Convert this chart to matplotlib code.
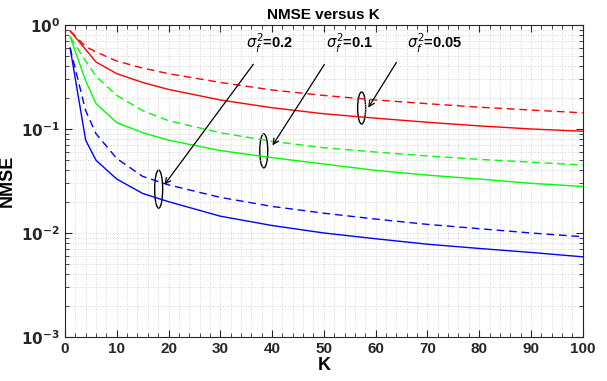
import matplotlib
matplotlib.use('Agg')
import matplotlib.pyplot as plt
import numpy as np
from matplotlib.patches import Ellipse
from matplotlib.ticker import MultipleLocator, LogLocator, NullFormatter

plt.rcParams['font.family'] = ['Liberation Sans', 'DejaVu Sans']

# number of users K
K = [1, 4, 6, 10, 15, 20, 30, 40, 50, 60, 70, 80, 90, 100]

# sigma_f^2 = 0.05 (red)
red_dash = [0.875, 0.62, 0.55, 0.45, 0.385, 0.34, 0.28, 0.237, 0.21, 0.19, 0.175, 0.162, 0.152, 0.143]
red_solid = [0.875, 0.58, 0.44, 0.34, 0.28, 0.24, 0.19, 0.16, 0.14, 0.127, 0.116, 0.107, 0.100, 0.095]
# sigma_f^2 = 0.1 (green)
green_dash = [0.77, 0.45, 0.32, 0.21, 0.15, 0.12, 0.092, 0.076, 0.066, 0.060, 0.055, 0.051, 0.048, 0.045]
green_solid = [0.77, 0.29, 0.175, 0.115, 0.092, 0.078, 0.062, 0.053, 0.046, 0.040, 0.036, 0.033, 0.030, 0.028]
# sigma_f^2 = 0.2 (blue)
blue_dash = [0.6, 0.15, 0.09, 0.052, 0.035, 0.029, 0.022, 0.018, 0.0155, 0.0136, 0.0121, 0.011, 0.0100, 0.0092]
blue_solid = [0.6, 0.078, 0.05, 0.033, 0.024, 0.020, 0.0145, 0.0118, 0.0100, 0.0088, 0.0078, 0.0071, 0.0065, 0.0059]

labels = [r'$\sigma_f^2$=0.2', r'$\sigma_f^2$=0.1', r'$\sigma_f^2$=0.05']
label_pos = [(39.6, 0.66), (55.0, 0.66), (71.5, 0.66)]
arrow_from = [(36.7, 0.44), (50.4, 0.44), (64.3, 0.46)]
arrow_to = [(18.9, 0.0277), (39.8, 0.066), (58.3, 0.152)]
ellipse_at = [(18.1, 0.0264), (38.4, 0.0616), (57.3, 0.159)]
ellipse_h = [38, 34, 32]

fig = plt.figure(figsize=(6.07, 3.81), dpi=100)
ax = fig.add_axes([0.107, 0.1155, 0.853, 0.819])

dash = (5.5, 3.5)
ax.semilogy(K, red_dash, 'r--', lw=1.0, dashes=dash)
ax.semilogy(K, red_solid, 'r-', lw=1.0)
ax.semilogy(K, green_dash, '--', color='#00ff00', lw=1.0, dashes=dash)
ax.semilogy(K, green_solid, '-', color='#00ff00', lw=1.0)
ax.semilogy(K, blue_dash, 'b--', lw=1.0, dashes=dash)
ax.semilogy(K, blue_solid, 'b-', lw=1.0)

ax.set_xlim(0, 100)
ax.set_ylim(1e-3, 1)
ax.xaxis.set_major_locator(MultipleLocator(10))
ax.xaxis.set_minor_locator(MultipleLocator(2))
ax.yaxis.set_major_locator(LogLocator(base=10))
ax.yaxis.set_minor_locator(LogLocator(base=10, subs=np.arange(2, 10)))
ax.yaxis.set_minor_formatter(NullFormatter())
ax.set_yticks([1e-3, 1e-2, 1e-1, 1])
ax.set_yticklabels([r'$\mathbf{10^{-3}}$', r'$\mathbf{10^{-2}}$', r'$\mathbf{10^{-1}}$', r'$\mathbf{10^{0}}$'])
ax.set_xticks(range(0, 101, 10))
ax.set_xticklabels([str(v) for v in range(0, 101, 10)], fontweight='bold')
ax.tick_params(which='both', direction='in', top=True, right=True, colors='#262626', labelsize=11)
ax.tick_params(which='major', length=5)
ax.tick_params(which='minor', length=3)
ax.grid(True, which='both', linestyle=(0, (1, 2)), color='#c8c8c8', linewidth=0.6)
for s in ax.spines.values():
    s.set_color('#262626')

ax.set_xlabel('K', fontsize=13, fontweight='bold', labelpad=1)
ax.set_ylabel('NMSE', fontsize=13, fontweight='bold')
ax.set_title('NMSE versus K', fontsize=11, fontweight='bold', pad=4)

# annotations: ellipses, arrows and labels
bbox = ax.get_window_extent()
for (ex, ey), eh in zip(ellipse_at, ellipse_h):
    cx = ex / 100.0
    cy = (np.log10(ey) + 3) / 3.0
    e = Ellipse((cx, cy), 8.0 / bbox.width, eh / bbox.height, transform=ax.transAxes,
                fill=False, edgecolor='black', lw=1.0)
    ax.add_patch(e)
for lab, (lx, ly), p0, p1 in zip(labels, label_pos, arrow_from, arrow_to):
    ax.text(lx, ly, lab, fontsize=10.5, fontweight='bold', ha='center', va='center')
    ax.annotate('', xy=p1, xytext=p0,
                arrowprops=dict(arrowstyle='->', color='black', lw=0.9))

fig.savefig('out.png', dpi=100)
